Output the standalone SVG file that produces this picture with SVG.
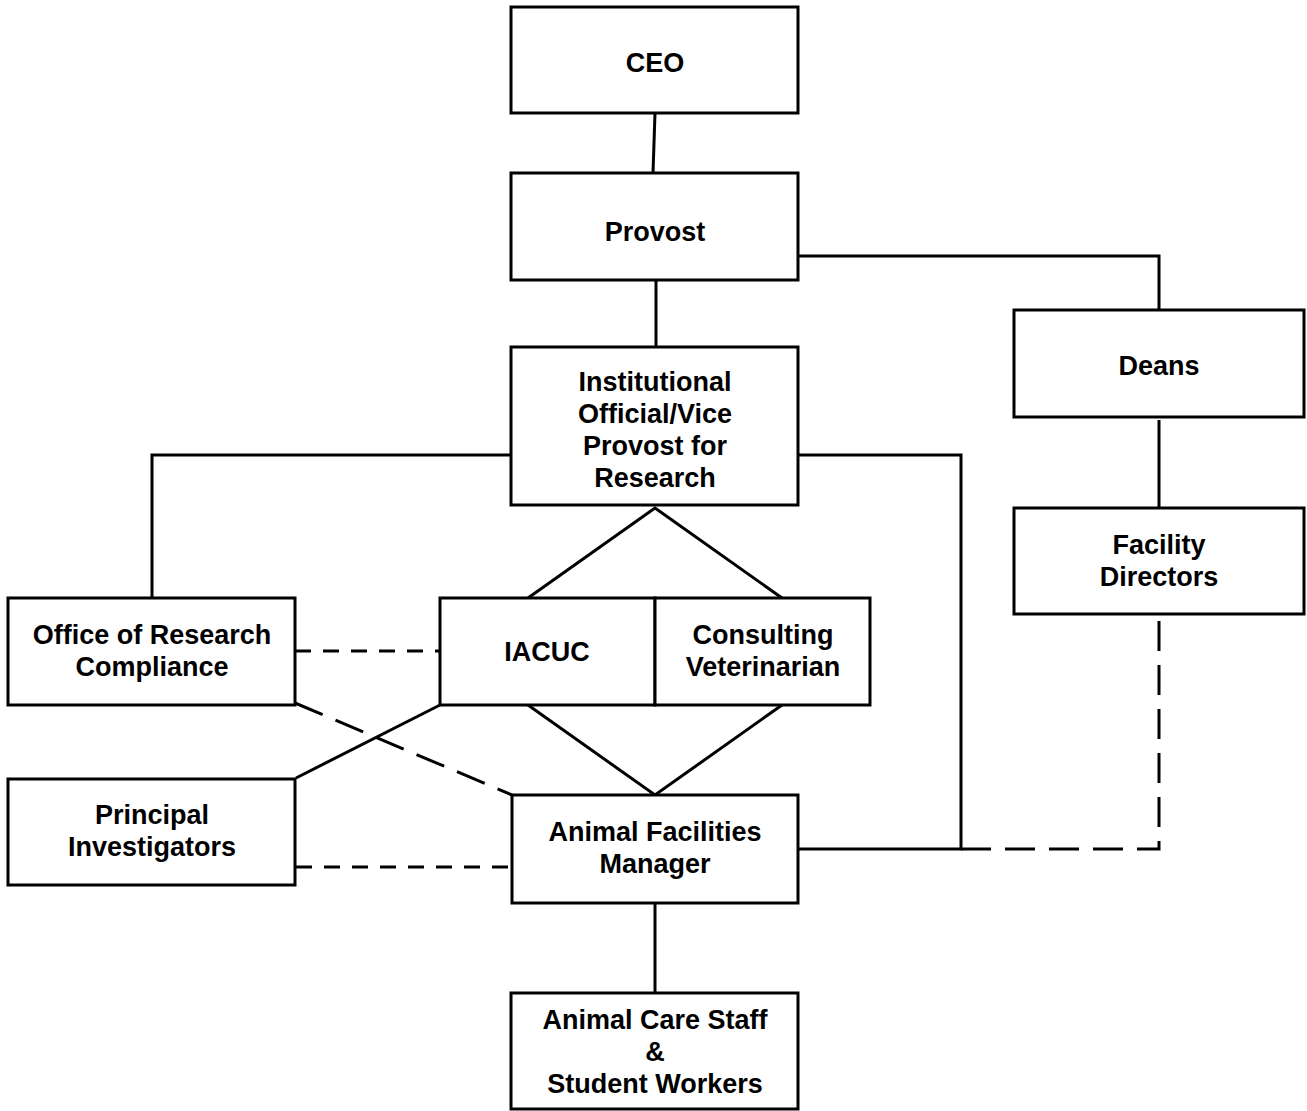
<svg xmlns="http://www.w3.org/2000/svg" width="1307" height="1111" viewBox="0 0 1307 1111">
<style>
.box{fill:#fff;stroke:#000;stroke-width:3}
.t{font-family:"Liberation Sans",Arial,sans-serif;font-weight:bold;font-size:27px;text-anchor:middle;fill:#000}
.c{fill:none;stroke:#000;stroke-width:3}
.d1{stroke-dasharray:16,12}
.d2{stroke-dasharray:30,14}
</style>
<rect width="1307" height="1111" fill="#fff"/>
<g id="connectors">
<path class="c" d="M655,113 L653,173"/>
<path class="c" d="M798,256 H1159 V310"/>
<path class="c" d="M656,280 V347"/>
<path class="c" d="M1159,420 V508"/>
<path class="c" d="M511,455 H152 V598"/>
<path class="c" d="M798,455 H961 V849 H798"/>
<path class="c d2" d="M961,849 H1159 V620"/>
<path class="c" d="M528,598 L655,508 L782,598"/>
<path class="c" d="M528,705 L655,795 L782,705"/>
<path class="c d1" d="M295,651 H440"/>
<path class="c d2" d="M295,703 L512,795"/>
<path class="c" d="M440,705 L296,778"/>
<path class="c d1" d="M296,867 H512"/>
<path class="c" d="M655,903 V993"/>
</g>
<g id="ceo"><rect class="box" x="511" y="7" width="287" height="106"/><text class="t" x="655" y="72">CEO</text></g>
<g id="provost"><rect class="box" x="511" y="173" width="287" height="107"/><text class="t" x="655" y="241">Provost</text></g>
<g id="deans"><rect class="box" x="1014" y="310" width="290" height="107"/><text class="t" x="1159" y="375">Deans</text></g>
<g id="facility"><rect class="box" x="1014" y="508" width="290" height="106"/><text class="t" x="1159" y="554">Facility</text><text class="t" x="1159" y="586">Directors</text></g>
<g id="io"><rect class="box" x="511" y="347" width="287" height="158"/><text class="t" x="655" y="391">Institutional</text><text class="t" x="655" y="423">Official/Vice</text><text class="t" x="655" y="455">Provost for</text><text class="t" x="655" y="487">Research</text></g>
<g id="orc"><rect class="box" x="8" y="598" width="287" height="107"/><text class="t" x="152" y="644">Office of Research</text><text class="t" x="152" y="676">Compliance</text></g>
<g id="iacuc"><rect class="box" x="440" y="598" width="215" height="107"/><text class="t" x="547" y="661">IACUC</text></g>
<g id="vet"><rect class="box" x="655" y="598" width="215" height="107"/><text class="t" x="763" y="644">Consulting</text><text class="t" x="763" y="676">Veterinarian</text></g>
<g id="pi"><rect class="box" x="8" y="779" width="287" height="106"/><text class="t" x="152" y="824">Principal</text><text class="t" x="152" y="856">Investigators</text></g>
<g id="afm"><rect class="box" x="512" y="795" width="286" height="108"/><text class="t" x="655" y="841">Animal Facilities</text><text class="t" x="655" y="873">Manager</text></g>
<g id="staff"><rect class="box" x="511" y="993" width="287" height="116"/><text class="t" x="655" y="1029">Animal Care Staff</text><text class="t" x="655" y="1061">&amp;</text><text class="t" x="655" y="1093">Student Workers</text></g>
</svg>
